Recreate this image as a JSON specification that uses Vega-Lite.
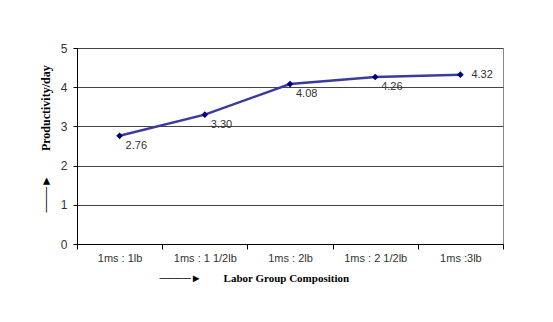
{
  "$schema": "https://vega.github.io/schema/vega-lite/v6.json",
  "autosize": {"type": "none"},
  "width": 426,
  "height": 196,
  "padding": {"left": 77, "top": 48, "right": 50, "bottom": 78},
  "background": "white",
  "config": {
    "view": {"stroke": "#8a8a8a", "strokeWidth": 1},
    "axis": {"labelFont": "Liberation Sans", "labelColor": "#333333", "domainColor": "#000000", "tickColor": "#000000", "titleFont": "Liberation Serif", "titleColor": "#000000"}
  },
  "data": {
    "values": [
      {"group": "1ms : 1lb", "productivity": 2.76, "label": "2.76"},
      {"group": "1ms : 1 1/2lb", "productivity": 3.30, "label": "3.30"},
      {"group": "1ms : 2lb", "productivity": 4.08, "label": "4.08"},
      {"group": "1ms : 2 1/2lb", "productivity": 4.26, "label": "4.26"},
      {"group": "1ms :3lb", "productivity": 4.32, "label": "4.32"}
    ]
  },
  "encoding": {
    "x": {
      "field": "group", "type": "ordinal", "sort": null,
      "scale": {"type": "band", "paddingInner": 0, "paddingOuter": 0},
      "axis": {
        "labelAngle": 0, "labelFontSize": 11, "tickBand": "extent", "tickSize": 5, "labelPadding": 3,
        "domainColor": "#000000",
        "title": "────►\u2003\u2003Labor Group Composition",
        "titleFontSize": 11, "titleFontWeight": "bold",
        "titleAlign": "left", "titleAnchor": "start", "titleX": 82, "titleY": 34, "titleBaseline": "middle"
      }
    },
    "y": {
      "field": "productivity", "type": "quantitative",
      "scale": {"domain": [0, 5]},
      "axis": {
        "values": [0, 1, 2, 3, 4, 5], "labelFontSize": 12, "tickSize": 4, "labelPadding": 6,
        "grid": true, "gridColor": "#444444", "gridWidth": 1,
        "title": "───►\u2003\u2003Productivity/day",
        "titleFontSize": 12, "titleFontWeight": "bold", "titleAngle": -90,
        "titleAlign": "left", "titleAnchor": "start", "titleX": -32, "titleY": 164, "titleBaseline": "middle"
      }
    }
  },
  "layer": [
    {"mark": {"type": "line", "color": "#3b3b9e", "strokeWidth": 2.5}},
    {"mark": {"type": "point", "shape": "diamond", "filled": true, "color": "#00007a", "size": 45, "opacity": 1}},
    {
      "transform": [{"filter": "datum.productivity < 4.3"}],
      "mark": {"type": "text", "align": "left", "baseline": "middle", "dx": 6, "dy": 10, "font": "Liberation Sans", "fontSize": 11, "color": "#333333"},
      "encoding": {"text": {"field": "label"}}
    },
    {
      "transform": [{"filter": "datum.productivity >= 4.3"}],
      "mark": {"type": "text", "align": "left", "baseline": "middle", "dx": 11, "dy": 0, "font": "Liberation Sans", "fontSize": 11, "color": "#333333"},
      "encoding": {"text": {"field": "label"}}
    }
  ]
}
